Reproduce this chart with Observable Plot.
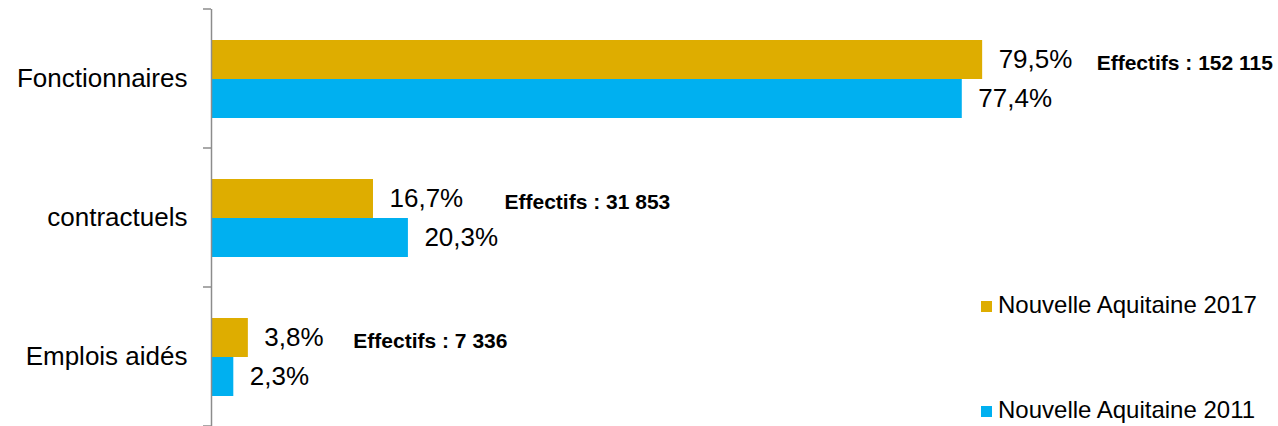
<!DOCTYPE html>
<html><head><meta charset="utf-8">
<script src="https://cdn.jsdelivr.net/npm/d3@7"></script>
<script src="https://cdn.jsdelivr.net/npm/@observablehq/plot@0.6"></script>
<style>
body{margin:0;background:#fff;font-family:"Liberation Sans",Arial,sans-serif;}
#wrap{position:relative;width:1278px;height:426px;overflow:hidden}
.leg{position:absolute;left:981px;height:24px;font-size:24px;line-height:24px;color:#000;white-space:nowrap}
.leg .sw{position:absolute;left:0;top:8px;width:11px;height:11px}
.leg .t{position:absolute;left:17px;top:0}
</style></head><body><div id="wrap"></div>
<script>
const categories = ["Fonctionnaires", "contractuels", "Emplois aidés"];
const series = ["Nouvelle Aquitaine 2017", "Nouvelle Aquitaine 2011"];
const values2017 = [79.5, 16.7, 3.8];
const values2011 = [77.4, 20.3, 2.3];
const effectifs = [152115, 31853, 7336];
const colors = ["#DEAD00", "#00B0F0"];

const fr = d3.formatLocale({decimal: ",", thousands: " ", grouping: [3], currency: ["", " €"]});
const pct = v => fr.format(".1f")(v) + "%";
const num = fr.format(",d");

const data = [];
categories.forEach((c, i) => {
  data.push({category: c, series: series[0], value: values2017[i]});
  data.push({category: c, series: series[1], value: values2011[i]});
});
const eff = categories.map((c, i) => ({category: c, series: series[0], value: values2017[i], label: "Effectifs : " + num(effectifs[i])}));

// horizontal offsets of the "Effectifs" notes (layout only)
const effDx = {"Fonctionnaires": 114, "contractuels": 131, "Emplois aidés": 105};

const font = "'Liberation Sans', Arial, sans-serif";
const chart = Plot.plot({
  width: 1278,
  height: 426,
  marginTop: 8,
  marginBottom: 0,
  marginLeft: 211,
  marginRight: 0,
  style: {fontFamily: font, fontSize: "26px", color: "#000", background: "#fff", overflow: "visible"},
  x: {domain: [0, 110], axis: null},
  y: {domain: series, axis: null, paddingInner: 0, paddingOuter: 0.742},
  fy: {domain: categories, padding: 0, axis: "left", tickSize: 0, tickPadding: 24, label: null},
  color: {domain: series, range: colors},
  marks: [
    Plot.barX(data, {x: "value", y: "series", fy: "category", fill: "series"}),
    Plot.ruleX([0], {stroke: "#8c8c8c", strokeWidth: 1.5}),
    Plot.text(data, {x: "value", y: "series", fy: "category", text: d => pct(d.value), textAnchor: "start", dx: 16, fontSize: 26, fill: "#000"}),
    ...categories.map(c => Plot.text(eff.filter(d => d.category === c), {
      x: "value", y: "series", fy: "category", text: "label", textAnchor: "start",
      dx: effDx[c], dy: 3, fontSize: 21, fontWeight: "bold", fill: "#000"
    }))
  ]
});
document.getElementById("wrap").appendChild(chart);

// category boundary tick marks on the vertical axis
const fy = chart.scale("fy");
const xs = chart.scale("x");
const x0 = xs.apply(0);
const edges = categories.map(c => fy.apply(c));
edges.push(fy.apply(categories[categories.length - 1]) + fy.bandwidth);
const svg = d3.select(chart.tagName.toLowerCase() === "svg" ? chart : chart.querySelector("svg"));
svg.append("g").selectAll("line").data(edges).join("line")
  .attr("x1", x0 - 8).attr("x2", x0).attr("y1", d => d).attr("y2", d => d)
  .attr("stroke", "#8c8c8c").attr("stroke-width", 1.5);

// legend
const wrap = document.getElementById("wrap");
const legTops = [293, 398];
series.forEach((s, i) => {
  const div = document.createElement("div");
  div.className = "leg";
  div.style.top = legTops[i] + "px";
  div.innerHTML = `<span class="sw" style="background:${colors[i]}"></span><span class="t">${s}</span>`;
  wrap.appendChild(div);
});
</script>
</body></html>
